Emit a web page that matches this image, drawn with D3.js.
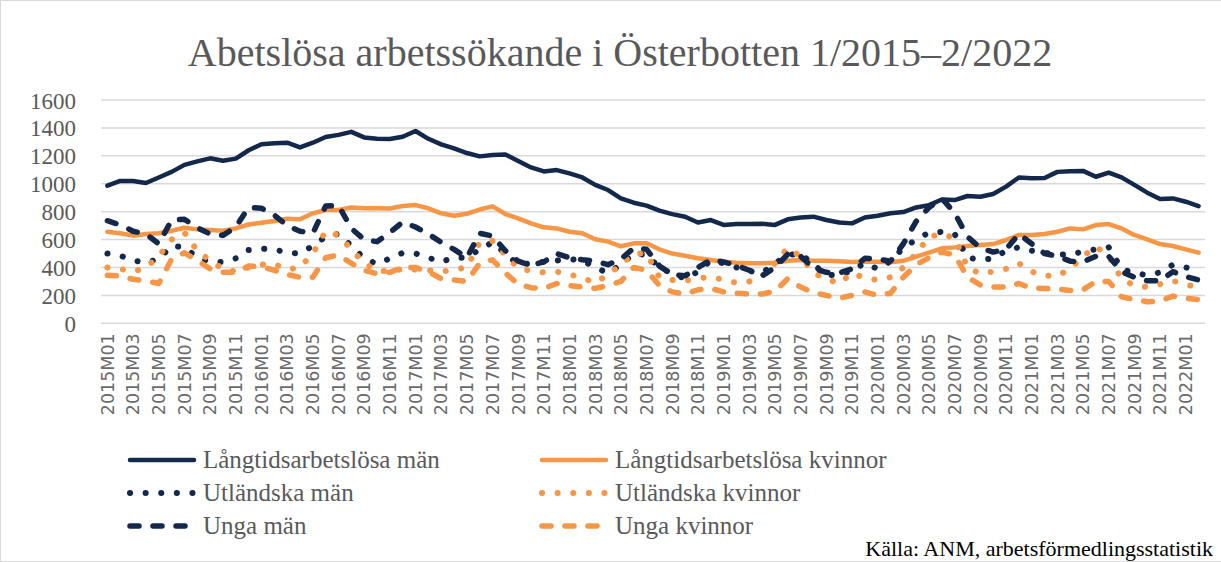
<!DOCTYPE html>
<html>
<head>
<meta charset="utf-8">
<script src="https://cdn.jsdelivr.net/npm/d3@7"></script>
<style>
  body { margin: 0; background: #fff; }
  svg { display: block; }
</style>
</head>
<body>
<div id="chart"></div>
<script>
// categories 2015M01 .. 2022M02
var months = [
  "2015M01","2015M02","2015M03","2015M04","2015M05","2015M06","2015M07","2015M08","2015M09","2015M10","2015M11","2015M12",
  "2016M01","2016M02","2016M03","2016M04","2016M05","2016M06","2016M07","2016M08","2016M09","2016M10","2016M11","2016M12",
  "2017M01","2017M02","2017M03","2017M04","2017M05","2017M06","2017M07","2017M08","2017M09","2017M10","2017M11","2017M12",
  "2018M01","2018M02","2018M03","2018M04","2018M05","2018M06","2018M07","2018M08","2018M09","2018M10","2018M11","2018M12",
  "2019M01","2019M02","2019M03","2019M04","2019M05","2019M06","2019M07","2019M08","2019M09","2019M10","2019M11","2019M12",
  "2020M01","2020M02","2020M03","2020M04","2020M05","2020M06","2020M07","2020M08","2020M09","2020M10","2020M11","2020M12",
  "2021M01","2021M02","2021M03","2021M04","2021M05","2021M06","2021M07","2021M08","2021M09","2021M10","2021M11","2021M12",
  "2022M01","2022M02"
];

var langMen = [986,1020,1020,1005,1045,1085,1135,1160,1182,1165,1180,1240,
  1283,1290,1294,1260,1294,1335,1350,1372,1332,1323,1320,1337,
  1378,1322,1282,1253,1220,1196,1206,1210,1163,1117,1088,1098,
  1074,1045,992,955,895,864,843,807,782,764,722,740,
  705,711,711,713,705,745,758,764,740,722,716,758,
  771,788,797,830,847,887,883,912,907,926,979,1045,
  1039,1041,1085,1090,1092,1050,1080,1046,992,936,890,895,
  871,840];

var langWomen = [656,645,628,640,645,663,685,673,668,663,680,708,
  721,733,750,745,788,812,812,830,824,824,822,840,
  847,824,788,771,785,815,838,783,752,716,688,680,
  656,645,602,585,552,573,573,530,500,484,466,453,
  441,434,430,430,434,448,453,448,448,444,439,441,
  441,437,448,477,506,537,544,554,561,568,597,633,
  633,640,656,680,673,704,711,680,633,602,568,554,
  530,506];

var utlMen = [500,485,450,435,460,555,545,470,440,440,465,525,
  535,530,505,500,555,620,640,555,465,425,465,505,
  500,470,440,470,470,530,580,500,420,430,440,450,
  460,450,400,360,420,500,490,400,355,320,370,450,
  430,400,375,360,430,490,500,420,350,340,380,430,
  390,445,540,600,650,655,640,470,455,465,520,545,
  520,505,495,490,515,530,545,390,360,345,365,420,
  400,385];

var utlWomen = [400,390,370,400,480,600,650,520,450,390,370,400,
  420,425,385,400,500,660,630,530,430,380,370,390,
  385,380,370,385,400,580,590,490,395,375,365,370,
  350,325,290,350,420,500,500,330,310,305,320,335,
  310,290,300,340,430,540,480,360,320,285,360,325,
  310,330,400,500,620,640,610,400,355,370,390,430,
  370,340,340,390,480,550,480,320,270,260,280,305,
  275,265];

var ungaMen = [735,705,660,640,570,740,745,685,640,630,690,830,
  825,775,700,660,645,840,845,680,600,585,650,725,
  690,640,580,530,470,645,625,520,445,415,440,500,
  470,455,445,420,460,540,530,410,350,340,400,455,
  440,415,380,340,400,495,480,395,365,360,390,466,
  460,445,570,730,830,895,790,620,540,510,530,640,
  570,500,480,445,440,480,480,370,330,305,305,370,
  335,310];

var ungaWomen = [345,340,315,305,285,460,505,450,390,365,365,410,
  405,380,350,330,330,470,490,430,380,355,365,400,
  400,370,320,310,300,430,455,360,280,255,250,285,
  270,260,250,270,300,400,380,270,225,210,240,250,
  225,215,210,210,230,320,260,220,200,180,200,225,
  200,215,330,420,470,510,490,330,275,260,260,285,
  252,250,245,235,240,300,300,190,170,155,160,195,
  180,170];

var seriesNames = ["Långtidsarbetslösa män", "Långtidsarbetslösa kvinnor",
  "Utländska män", "Utländska kvinnor", "Unga män", "Unga kvinnor"];
var yTicks = [0, 200, 400, 600, 800, 1000, 1200, 1400, 1600];

var navy = "#13284a", orange = "#f79646";
var series = [
  { name: seriesNames[0], values: langMen,   color: navy,   dash: null,        w: 4.5 },
  { name: seriesNames[1], values: langWomen, color: orange, dash: null,        w: 4.5 },
  { name: seriesNames[2], values: utlMen,    color: navy,   dash: "0.1 15.5",  w: 6 },
  { name: seriesNames[3], values: utlWomen,  color: orange, dash: "0.1 15.5",  w: 6 },
  { name: seriesNames[4], values: ungaMen,   color: navy,   dash: "9 14",      w: 5.5 },
  { name: seriesNames[5], values: ungaWomen, color: orange, dash: "9 14",      w: 5.5 }
];

var width = 1221, height = 562;
var plot = { left: 101, right: 1205, top: 100, bottom: 323.3 };

var svg = d3.select("#chart").append("svg")
  .attr("width", width)
  .attr("height", height);

// chart frame
svg.append("rect")
  .attr("x", 0.5).attr("y", 0.5)
  .attr("width", width + 10).attr("height", height - 1)
  .attr("fill", "none")
  .attr("stroke", "#d9d9d9");

var xScale = d3.scaleBand()
  .domain(months)
  .range([plot.left, plot.right]);

var yScale = d3.scaleLinear()
  .domain([0, 1600])
  .range([plot.bottom, plot.top]);

var xc = function(m) { return xScale(m) + xScale.bandwidth() / 2; };

// gridlines
svg.append("g")
  .selectAll("line")
  .data(yTicks)
  .enter()
  .append("line")
  .attr("x1", plot.left)
  .attr("x2", plot.right)
  .attr("y1", function(d) { return yScale(d); })
  .attr("y2", function(d) { return yScale(d); })
  .attr("stroke", "#d9d9d9")
  .attr("stroke-width", 1.5);

// y axis
var yAxis = d3.axisLeft(yScale).tickValues(yTicks).tickSize(0).tickPadding(0)
  .tickFormat(d3.format("d"));
var gy = svg.append("g")
  .attr("transform", "translate(76,0)")
  .call(yAxis);
gy.select(".domain").remove();
gy.selectAll("text")
  .attr("fill", "#595959")
  .style("font-family", "'Liberation Serif', serif")
  .style("font-size", "23px")
  .attr("dy", "0.35em");

// x axis, every other month labelled
var xAxis = d3.axisBottom(xScale)
  .tickValues(months.filter(function(d, i) { return i % 2 === 0; }))
  .tickSize(0);
var gx = svg.append("g")
  .attr("transform", "translate(0," + plot.bottom + ")")
  .call(xAxis);
gx.select(".domain").remove();
gx.selectAll("text")
  .attr("fill", "#6a6a6a")
  .style("font-family", "'DejaVu Sans', sans-serif")
  .style("font-size", "17.5px")
  .attr("text-anchor", "end")
  .attr("transform", "rotate(-90)")
  .attr("x", -10)
  .attr("y", 0)
  .attr("dy", "0.36em");

// lines
var line = d3.line()
  .x(function(d, i) { return xc(months[i]); })
  .y(function(d) { return yScale(d); });

svg.append("g")
  .selectAll("path")
  .data(series)
  .enter()
  .append("path")
  .attr("d", function(s) { return line(s.values); })
  .attr("fill", "none")
  .attr("stroke", function(s) { return s.color; })
  .attr("stroke-width", function(s) { return s.w; })
  .attr("stroke-linecap", "round")
  .attr("stroke-linejoin", "round")
  .attr("stroke-dasharray", function(s) { return s.dash; });

// title
svg.append("text")
  .attr("x", 620)
  .attr("y", 66)
  .attr("text-anchor", "middle")
  .attr("fill", "#595959")
  .style("font-family", "'Liberation Serif', serif")
  .style("font-size", "40px")
  .text("Abetslösa arbetssökande i Österbotten 1/2015–2/2022");

// legend
var legend = svg.append("g").attr("class", "legend");
var legendItems = legend.selectAll("g")
  .data(series)
  .enter()
  .append("g")
  .attr("transform", function(d, i) {
    var col = i % 2, row = Math.floor(i / 2);
    return "translate(" + (col ? 542 : 130) + "," + (460 + row * 33) + ")";
  });

legendItems.append("line")
  .attr("x1", 0).attr("x2", 64)
  .attr("y1", 0).attr("y2", 0)
  .attr("stroke", function(d) { return d.color; })
  .attr("stroke-width", function(d) { return d.w; })
  .attr("stroke-linecap", "round")
  .attr("stroke-dasharray", function(d) { return d.dash; });

legendItems.append("text")
  .attr("x", 73)
  .attr("y", 0)
  .attr("dy", "0.33em")
  .attr("fill", "#595959")
  .style("font-family", "'Liberation Serif', serif")
  .style("font-size", "25px")
  .text(function(d) { return d.name; });

// source
svg.append("text")
  .attr("x", 1213)
  .attr("y", 556)
  .attr("text-anchor", "end")
  .attr("fill", "#000")
  .style("font-family", "'Liberation Serif', serif")
  .style("font-size", "22px")
  .text("Källa: ANM, arbetsförmedlingsstatistik");
</script>
</body>
</html>
